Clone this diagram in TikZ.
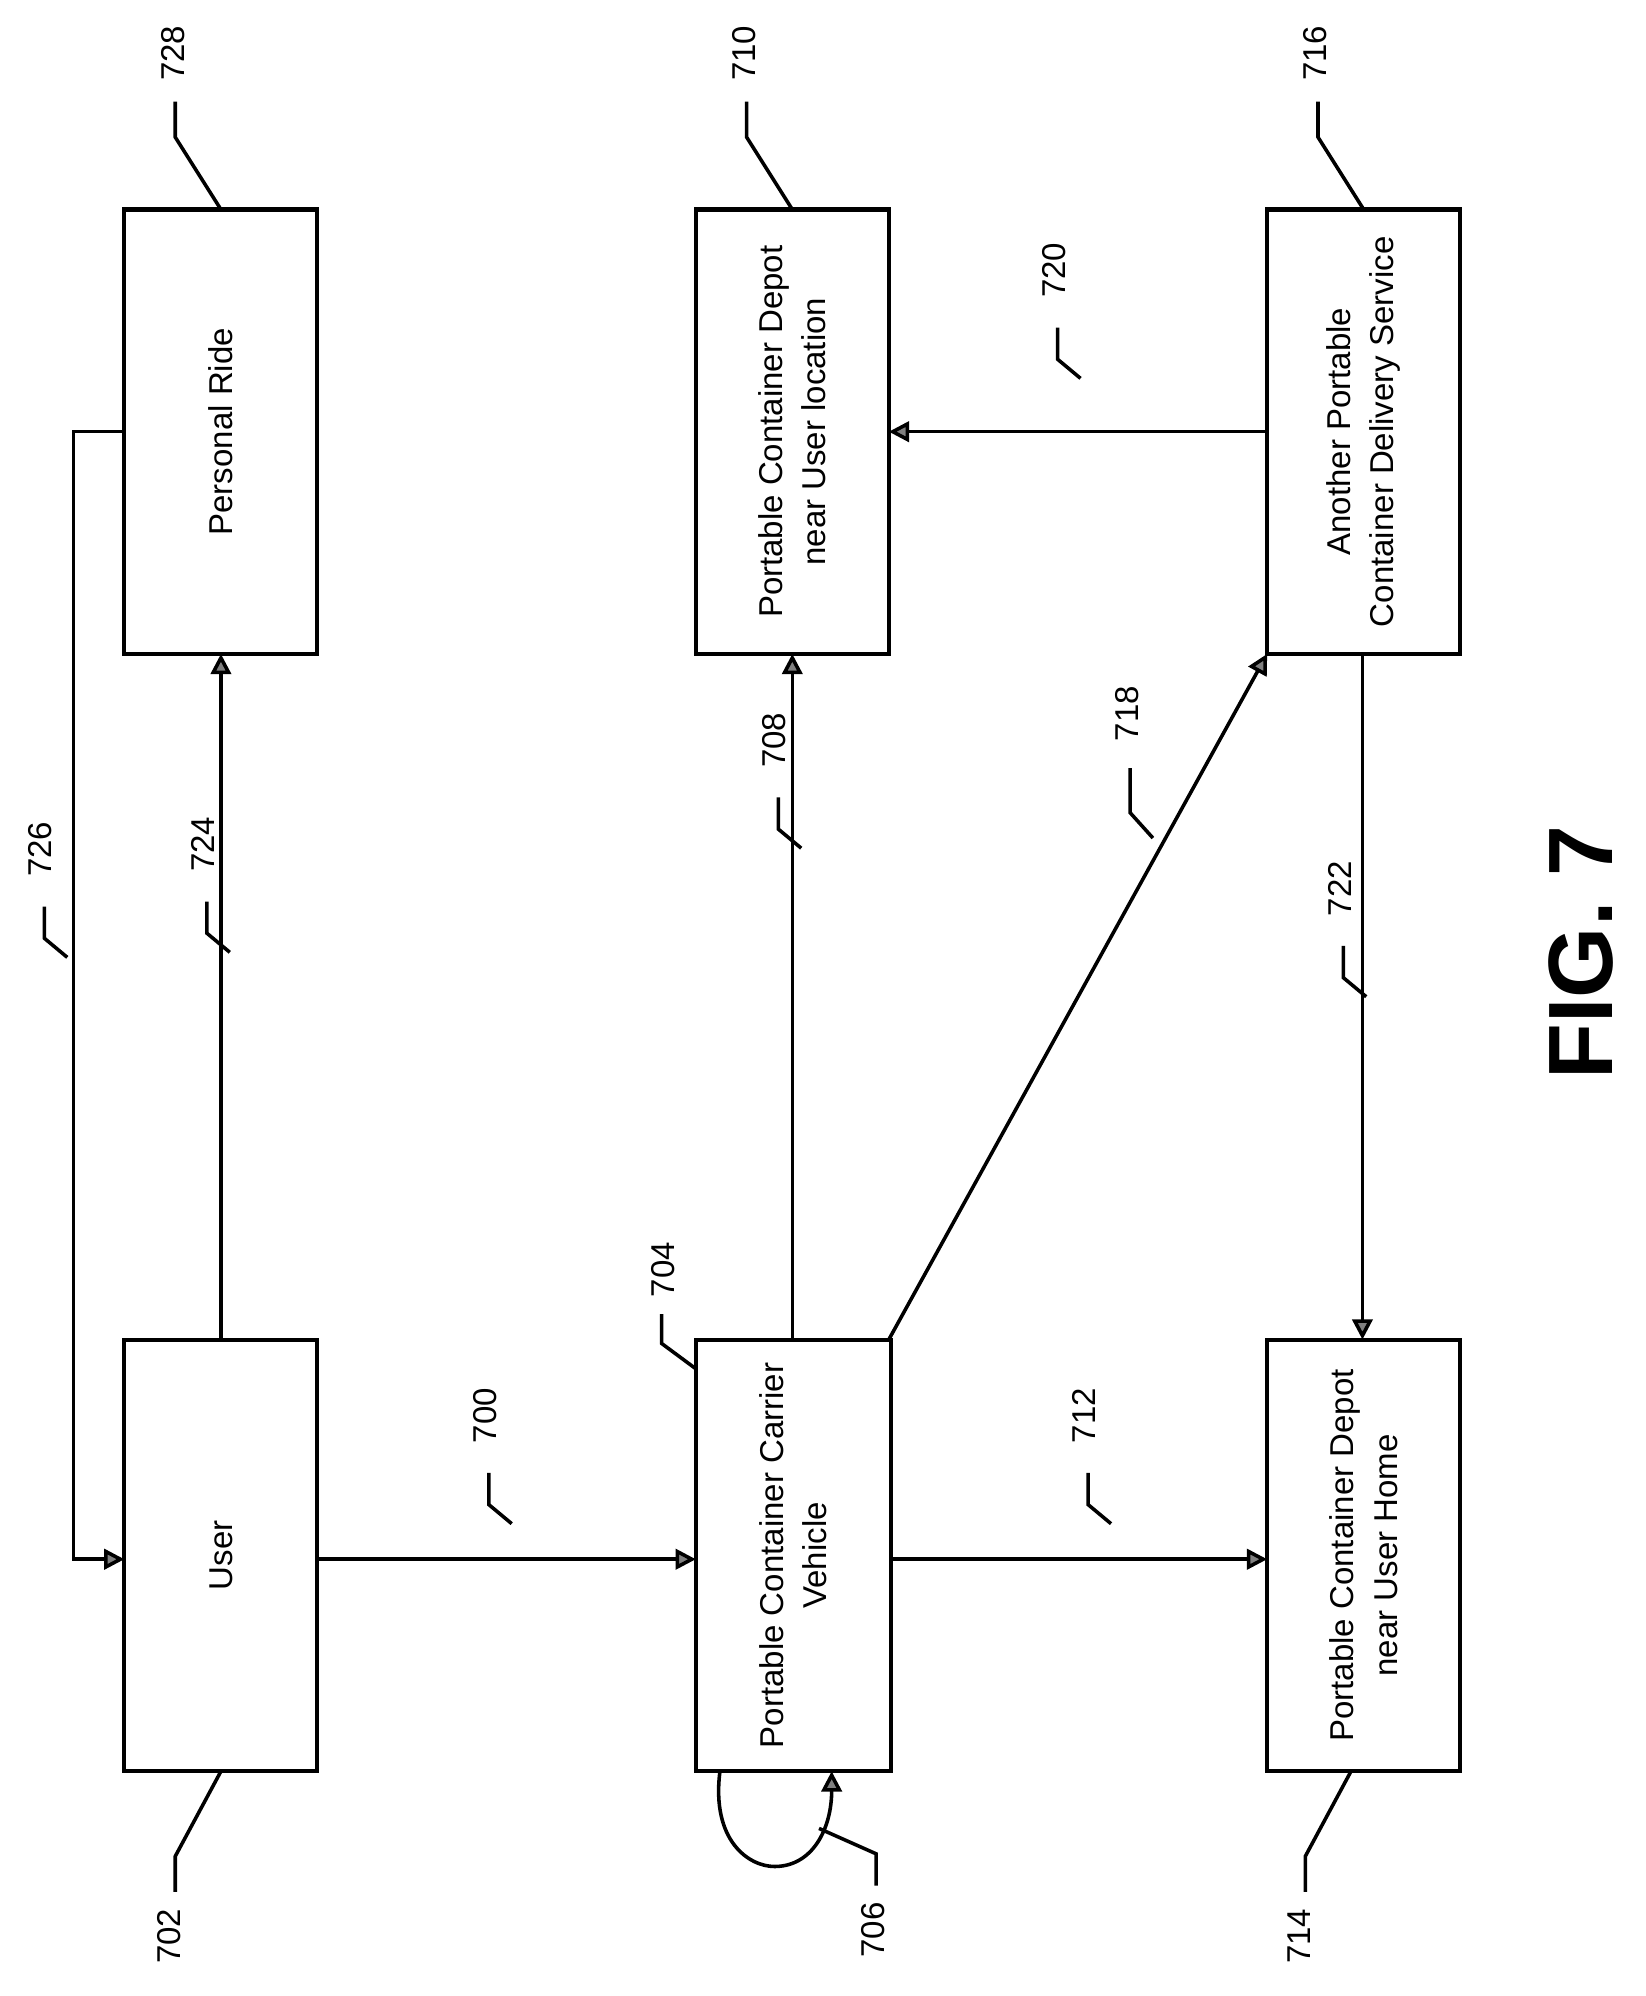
\documentclass[tikz,border=0pt]{standalone}
\usepackage{fontspec}
\setmainfont{Liberation Sans}
\usetikzlibrary{arrows.meta}
\begin{document}
\begin{tikzpicture}[x=0.5pt,y=-0.5pt,
  box/.style={draw,line width=1.6pt,minimum width=150pt*0.5/0.5,inner sep=0pt},
  txt/.style={rotate=90,font=\fontsize{13}{17}\selectfont,align=center},
  num/.style={rotate=90,font=\fontsize{13}{15}\selectfont},
  arr/.style={line width=1.4pt,-{Triangle[width=8pt,length=8pt,open,fill=gray]}},
  ld/.style={line width=1.4pt}]
\useasboundingbox (0,0) rectangle (1296,1572);
\tikzset{bx/.style={draw,line width=1.6pt}}
% boxes
\draw[bx] (98,165) rectangle (250,515); \coordinate (prT) at (174,165);
\draw[bx] (98,1055) rectangle (250,1395);
\draw[bx] (548,1055) rectangle (702,1395);
\draw[bx] (548,165) rectangle (700,515);
\draw[bx] (998,165) rectangle (1150,515);
\draw[bx] (998,1055) rectangle (1150,1395);
\node[txt] (pr) at (174,340) {Personal Ride};
\node[txt] (us) at (174,1225) {User};
\node[txt] (ve) at (625,1225) {Portable Container Carrier\\Vehicle};
\node[txt] (d1) at (624,340) {Portable Container Depot\\near User location};
\node[txt] (an) at (1074,340) {Another Portable\\Container Delivery Service};
\node[txt] (d2) at (1074,1225) {Portable Container Depot\\near User Home};
% arrows
\draw[arr] (250,1228) -- (548,1228);
\draw[arr] (702,1228) -- (998,1228);
\draw[arr] (174,1055) -- (174,515);
\draw[arr] (98,340) -- (58,340) -- (58,1228) -- (98,1228);
\draw[arr] (624,1055) -- (624,515);
\draw[arr] (700,1055) -- (998,515);
\draw[arr] (998,340) -- (700,340);
\draw[arr] (1073,515) -- (1073,1055);
\draw[arr] (567,1395) .. controls (560,1450) and (590,1470) .. (610,1470) .. controls (640,1470) and (655,1440) .. (655,1395);
% reference labels (top)
\foreach \x/\n in {138/728,588/710,1038/716}{
  \node[num] at (\x-2,42) {\n};
  \draw[ld] (\x,80) -- (\x,108) -- (\x+36,165);}
% bottom refs
\foreach \x/\n in {138/702,1028/714}{
  \node[num] at (\x-5,1525) {\n};
  \draw[ld] (\x,1490) -- (\x,1462) -- (\x+36,1395);}
\node[num] at (688,1520) {706};
\draw[ld] (690,1485) -- (690,1460) -- (645,1440);
\node[num] at (522,1000) {704};
\draw[ld] (521,1035) -- (521,1058) -- (548,1078);
% line labels
\foreach \x/\y/\n in {385/1160/700, 857/1160/712, 163/710/724, 35/714/726, 613/628/708, 833/258/720, 1058/745/722}{
  \node[num] at (\x-3,\y-45) {\n};
  \draw[ld] (\x,\y) -- (\x,\y+25) -- (\x+18,\y+40);}
\node[num] at (888,562) {718};
\draw[ld] (890,605) -- (890,640) -- (908,660);
\node[rotate=90,font=\bfseries\fontsize{36}{40}\selectfont] at (1245,750) {FIG. 7};
\end{tikzpicture}
\end{document}
